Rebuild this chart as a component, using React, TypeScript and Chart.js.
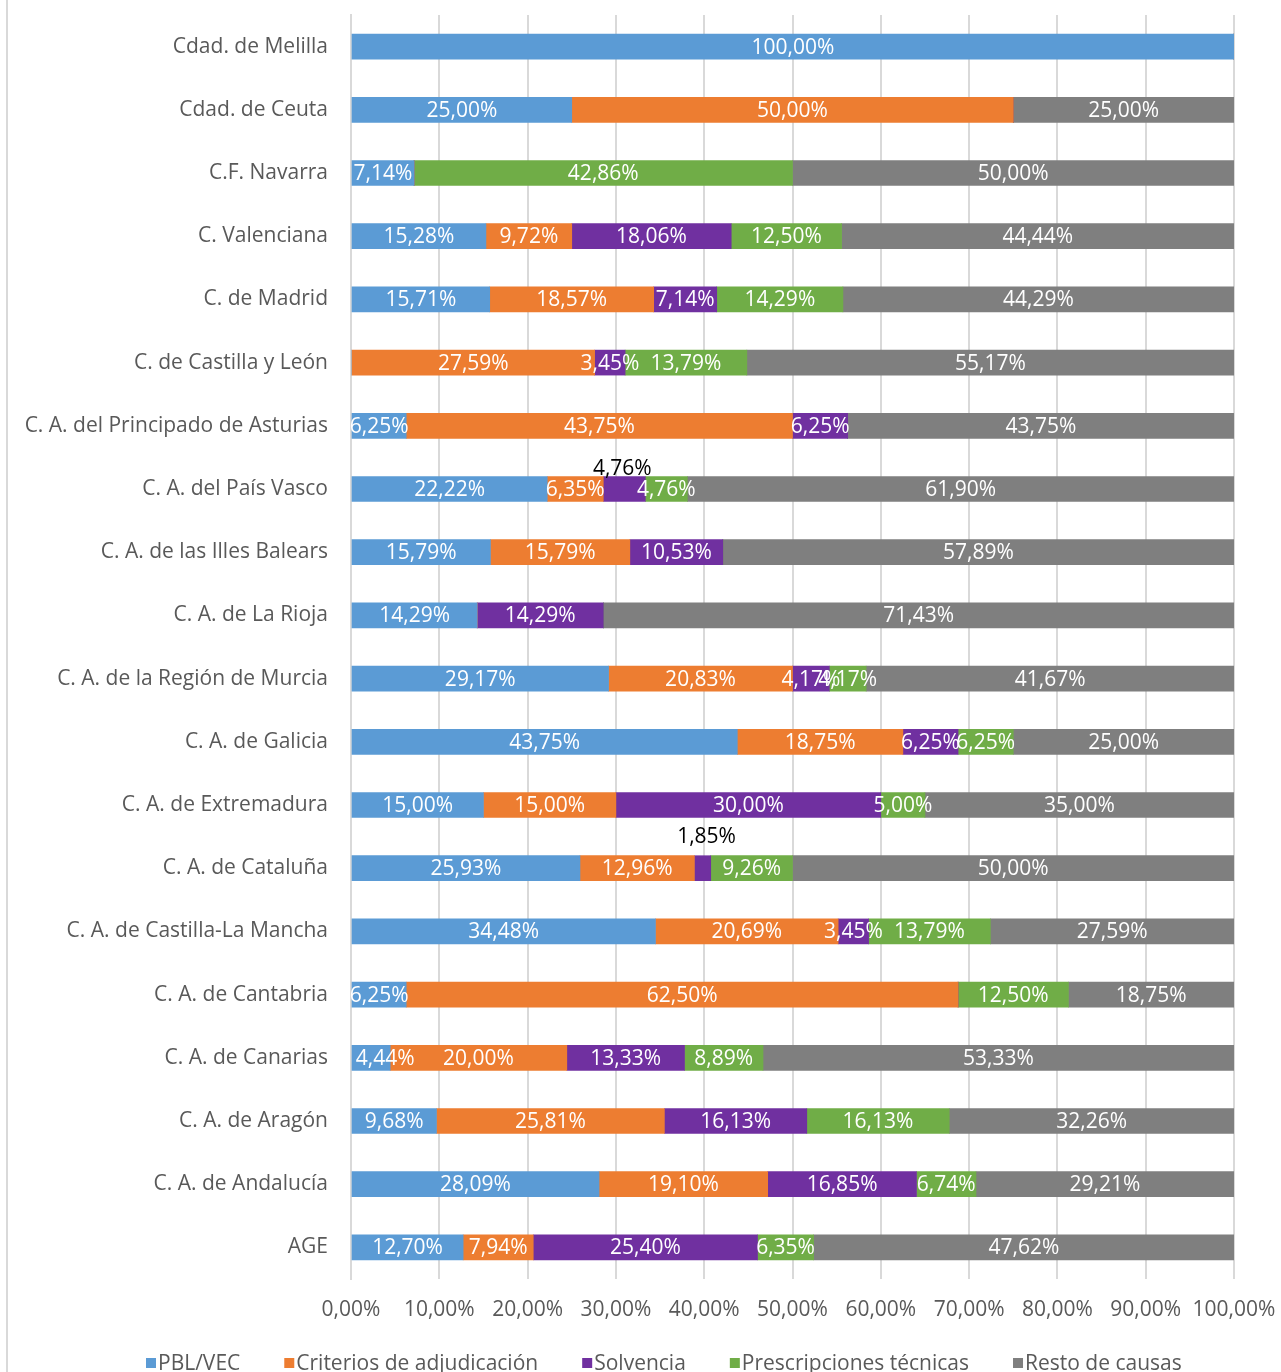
import React, { useEffect, useRef } from 'react';
import { Chart, registerables } from 'chart.js';

Chart.register(...registerables);

const categories = [
  'Cdad. de Melilla',
  'Cdad. de Ceuta',
  'C.F. Navarra',
  'C. Valenciana',
  'C. de Madrid',
  'C. de Castilla y León',
  'C. A. del Principado de Asturias',
  'C. A. del País Vasco',
  'C. A. de las Illes Balears',
  'C. A. de La Rioja',
  'C. A. de la Región de Murcia',
  'C. A. de Galicia',
  'C. A. de Extremadura',
  'C. A. de Cataluña',
  'C. A. de Castilla-La Mancha',
  'C. A. de Cantabria',
  'C. A. de Canarias',
  'C. A. de Aragón',
  'C. A. de Andalucía',
  'AGE',
];

const seriesNames = [
  'PBL/VEC',
  'Criterios de adjudicación',
  'Solvencia',
  'Prescripciones técnicas',
  'Resto de causas',
];

const pblVec = [100, 25, 7.14, 15.28, 15.71, 0, 6.25, 22.22, 15.79, 14.29, 29.17, 43.75, 15, 25.93, 34.48, 6.25, 4.44, 9.68, 28.09, 12.7];
const criterios = [0, 50, 0, 9.72, 18.57, 27.59, 43.75, 6.35, 15.79, 0, 20.83, 18.75, 15, 12.96, 20.69, 62.5, 20, 25.81, 19.1, 7.94];
const solvencia = [0, 0, 0, 18.06, 7.14, 3.45, 6.25, 4.76, 10.53, 14.29, 4.17, 6.25, 30, 1.85, 3.45, 0, 13.33, 16.13, 16.85, 25.4];
const prescripciones = [0, 0, 42.86, 12.5, 14.29, 13.79, 0, 4.76, 0, 0, 4.17, 6.25, 5, 9.26, 13.79, 12.5, 8.89, 16.13, 6.74, 6.35];
const resto = [0, 25, 50, 44.44, 44.29, 55.17, 43.75, 61.9, 57.89, 71.43, 41.67, 25, 35, 50, 27.59, 18.75, 53.33, 32.26, 29.21, 47.62];

const tickValues = [0, 10, 20, 30, 40, 50, 60, 70, 80, 90, 100];

const colors = ['#5b9bd5', '#ed7d31', '#7030a0', '#70ad47', '#7f7f7f'];

// labels that Excel moved (category, series index, offsets, colour)
const movedLabels = [
  { cat: 'C. A. del País Vasco', series: 2, dx: -2, dy: -20, above: true },
  { cat: 'C. A. de Cataluña', series: 2, dx: 4, dy: -31, above: true },
  { cat: 'C. A. de Canarias', series: 0, dx: 14, dy: 1, above: false },
];

const FONT = "'Open Sans', 'Noto Sans', sans-serif";
const FONT_SIZE = 21;
const TEXT_COLOR = '#595959';

const fmt = (v: number) => v.toFixed(2).replace('.', ',') + '%';

const labelPlugin = {
  id: 'barLabels',
  afterDatasetsDraw(chart: any) {
    const ctx = chart.ctx;
    const area = chart.chartArea;
    ctx.save();
    ctx.font = `${FONT_SIZE}px ${FONT}`;
    ctx.textAlign = 'center';
    ctx.textBaseline = 'middle';
    chart.data.datasets.forEach((ds: any, i: number) => {
      const meta = chart.getDatasetMeta(i);
      meta.data.forEach((el: any, j: number) => {
        const v = ds.data[j];
        if (!v || v <= 0) return;
        const cx = (el.x + el.base) / 2;
        const special = movedLabels.find((a) => a.cat === categories[j] && a.series === i);
        if (special && special.above) {
          ctx.fillStyle = '#000000';
          ctx.fillText(fmt(v), cx + special.dx, el.y + special.dy);
        } else {
          const dx = special ? special.dx : 0;
          const dy = special ? special.dy : 1;
          ctx.save();
          ctx.beginPath();
          ctx.rect(area.left - 2, 0, area.right - area.left + 4, chart.height);
          ctx.clip();
          ctx.fillStyle = '#ffffff';
          ctx.fillText(fmt(v), cx + dx, el.y + dy);
          ctx.restore();
        }
      });
    });
    ctx.restore();
  },
};

const legendPlugin = {
  id: 'customLegend',
  afterDraw(chart: any) {
    const ctx = chart.ctx;
    ctx.save();
    // outer left border
    ctx.strokeStyle = '#d9d9d9';
    ctx.lineWidth = 2;
    ctx.beginPath();
    ctx.moveTo(7, 0);
    ctx.lineTo(7, chart.height);
    ctx.stroke();

    ctx.font = `${FONT_SIZE}px ${FONT}`;
    ctx.textBaseline = 'middle';
    ctx.textAlign = 'left';
    let x = 146;
    const y = 1364;
    chart.data.datasets.forEach((ds: any) => {
      ctx.fillStyle = ds.backgroundColor;
      ctx.fillRect(x, y - 6, 10, 10);
      x += 12;
      ctx.fillStyle = TEXT_COLOR;
      ctx.fillText(ds.label, x, y);
      x += ctx.measureText(ds.label).width + 44;
    });
    ctx.restore();
  },
};

const zeroPad = (scale: any) => {
  scale.paddingTop = 0;
  scale.paddingBottom = 0;
  scale.paddingLeft = 0;
  scale.paddingRight = 0;
};

export default function App() {
  const ref = useRef<HTMLCanvasElement>(null);
  useEffect(() => {
    if (!ref.current) return;
    const series = [pblVec, criterios, solvencia, prescripciones, resto];
    const chart = new Chart(ref.current, {
      type: 'bar',
      data: {
        labels: categories,
        datasets: series.map((d, i) => ({
          label: seriesNames[i],
          data: d,
          backgroundColor: colors[i],
          borderWidth: 0,
          barThickness: 25,
        })),
      },
      options: {
        indexAxis: 'y',
        responsive: false,
        animation: false,
        devicePixelRatio: 1,
        layout: { padding: { top: 15, right: 47, left: 0, bottom: 0 } },
        plugins: {
          legend: { display: false },
          tooltip: { enabled: false },
        },
        scales: {
          x: {
            stacked: true,
            min: 0,
            max: 100,
            afterBuildTicks: (scale: any) => {
              scale.ticks = tickValues.map((v) => ({ value: v }));
            },
            grid: { color: '#d9d9d9', lineWidth: 2, drawTicks: false },
            border: { display: false },
            ticks: {
              padding: 18,
              color: TEXT_COLOR,
              font: { family: FONT, size: FONT_SIZE },
              maxRotation: 0,
              autoSkip: false,
              callback: (v: any) => fmt(Number(v)),
            },
            afterFit: (scale: any) => {
              scale.height = 93;
              zeroPad(scale);
            },
          },
          y: {
            stacked: true,
            grid: { display: false, drawTicks: false },
            border: { display: true, color: '#d9d9d9', width: 2 },
            ticks: {
              padding: 23,
              color: TEXT_COLOR,
              font: { family: FONT, size: FONT_SIZE },
              autoSkip: false,
            },
            afterFit: (scale: any) => {
              scale.width = 351;
              zeroPad(scale);
            },
          },
        },
      },
      plugins: [labelPlugin, legendPlugin],
    } as any);
    return () => chart.destroy();
  }, []);
  return (
    <div style={{ position: 'absolute', left: 0, top: 0, width: 1281, height: 1372, background: '#ffffff' }}>
      <canvas ref={ref} width={1281} height={1372} style={{ display: 'block', width: 1281, height: 1372 }} />
    </div>
  );
}
